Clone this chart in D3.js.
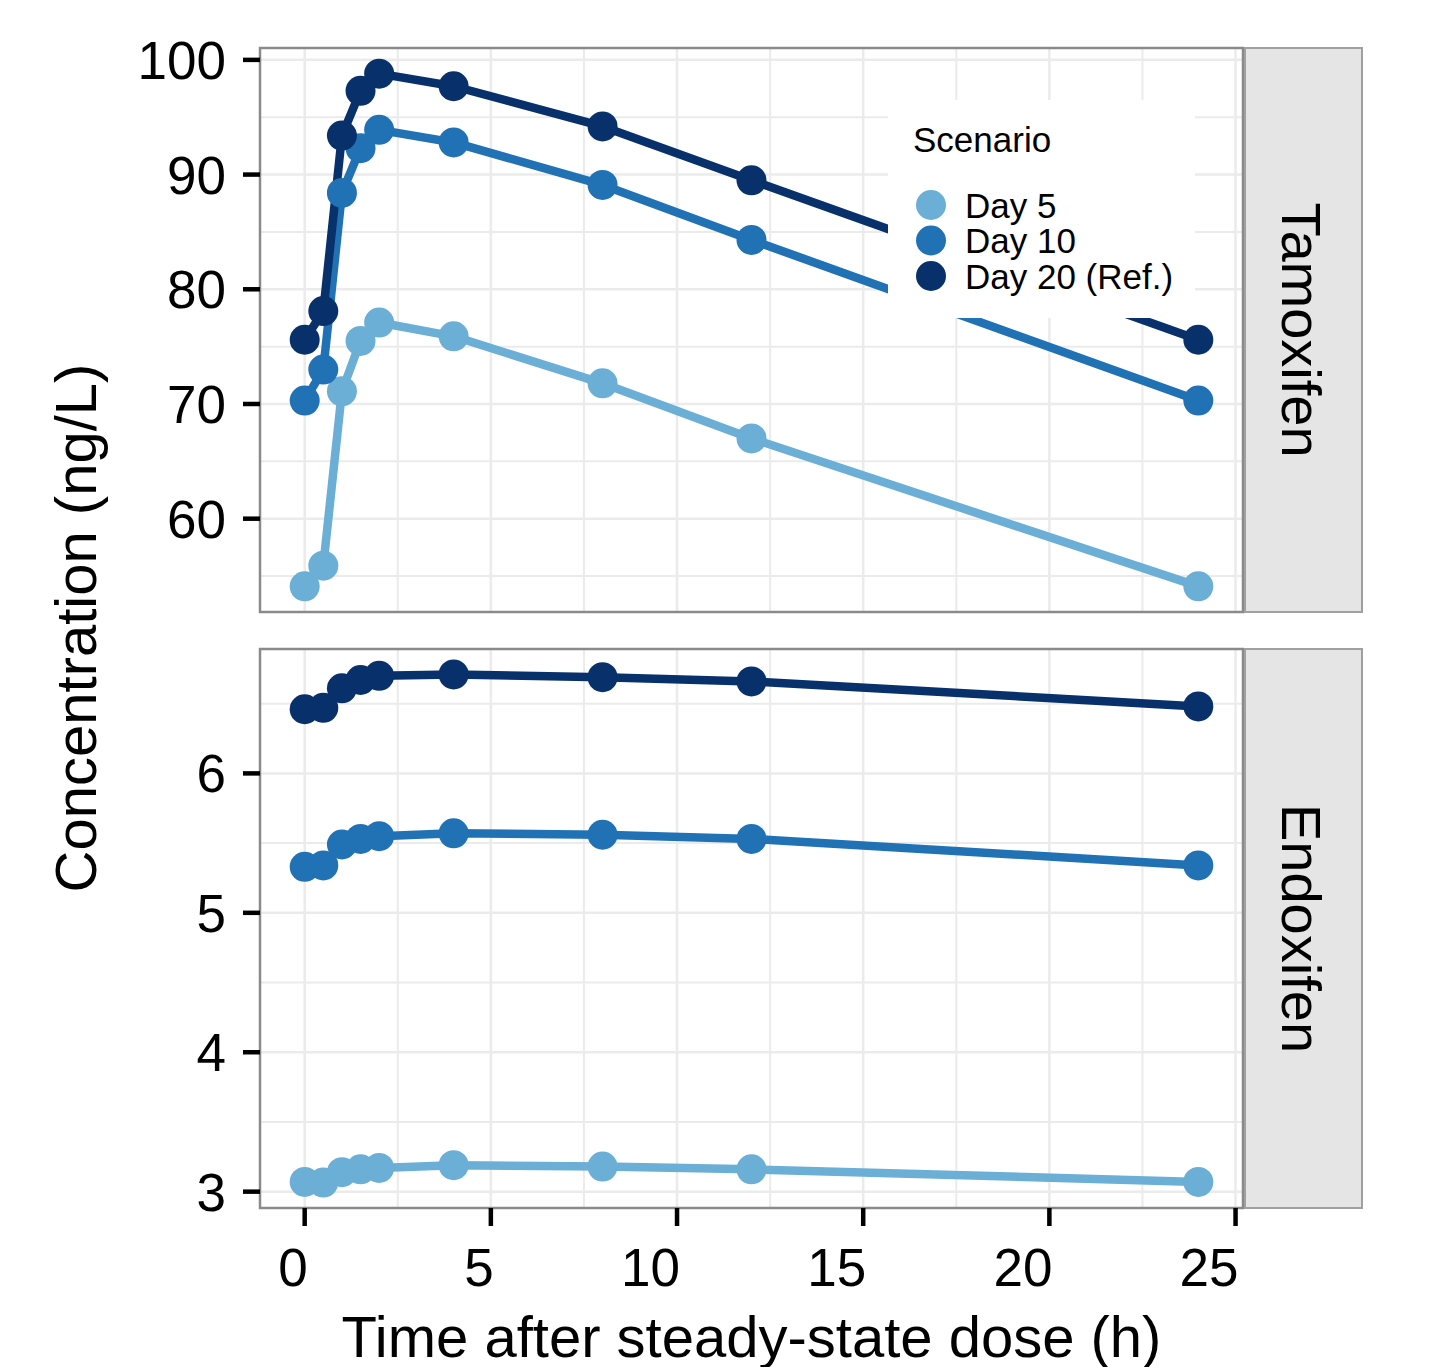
<!DOCTYPE html>
<meta charset="utf-8" />
<html>
<head>
    <style>
        body { margin: 0; background: #fff; }
        text { font-family: "Liberation Sans", Arial, sans-serif; fill: #000; }
        .grid line { stroke: #ebebeb; }
    </style>
</head>
<body>
    <svg width="1454" height="1367"></svg>
    <script src="https://d3js.org/d3.v7.min.js"></script>
    <script>
        // data
        var times = [0, 0.5, 1, 1.5, 2, 4, 8, 12, 24];
        var scenarios = ["Day 5", "Day 10", "Day 20 (Ref.)"];
        var colors = ["#6baed6", "#2171b5", "#08306b"];
        var panels = ["Tamoxifen", "Endoxifen"];

        var tamDay5 = [54.1, 55.9, 71.1, 75.5, 77.1, 75.9, 71.8, 67.0, 54.1];
        var tamDay10 = [70.3, 73.0, 88.4, 92.3, 93.9, 92.8, 89.1, 84.3, 70.3];
        var tamDay20 = [75.6, 78.1, 93.4, 97.3, 98.8, 97.7, 94.2, 89.5, 75.6];

        var endDay5 = [3.07, 3.065, 3.14, 3.16, 3.17, 3.19, 3.18, 3.16, 3.07];
        var endDay10 = [5.33, 5.34, 5.49, 5.53, 5.55, 5.57, 5.56, 5.53, 5.34];
        var endDay20 = [6.46, 6.47, 6.61, 6.67, 6.70, 6.71, 6.69, 6.66, 6.48];

        var xTicks = [0, 5, 10, 15, 20, 25];
        var yTicksTam = [60, 70, 80, 90, 100];
        var yTicksEnd = [3, 4, 5, 6];

        var series = [
            [tamDay5, tamDay10, tamDay20],
            [endDay5, endDay10, endDay20]
        ];
        var yTicks = [yTicksTam, yTicksEnd];

        var svg = d3.select("svg");
        var left = 260, right = 1243;
        var stripW = 119;
        var tops = [48, 649], bottoms = [612, 1208];

        // ggplot style 5% expansion
        function expand(ext) {
            var pad = (ext[1] - ext[0]) * 0.05;
            return [ext[0] - pad, ext[1] + pad];
        }

        var x = d3.scaleLinear()
            .domain(expand(d3.extent(times)))
            .range([left, right]);

        var grid = svg.append("g").attr("class", "grid");
        var marks = svg.append("g");
        var frames = svg.append("g");

        panels.forEach(function (name, p) {
            var vals = d3.merge(series[p]);
            var y = d3.scaleLinear()
                .domain(expand(d3.extent(vals)))
                .range([bottoms[p], tops[p]]);

            var step = yTicks[p][1] - yTicks[p][0];
            var minorY = yTicks[p].map(function (t) { return t + step / 2; })
                .concat([yTicks[p][0] - step / 2])
                .filter(function (t) { return t > y.domain()[0] && t < y.domain()[1]; });
            var minorX = xTicks.map(function (t) { return t + 2.5; })
                .filter(function (t) { return t < x.domain()[1]; });

            var g = grid.append("g");
            g.selectAll(".my").data(minorY).enter().append("line")
                .attr("x1", left).attr("x2", right)
                .attr("y1", y).attr("y2", y)
                .attr("stroke", "#f3f3f3").attr("stroke-width", 2);
            g.selectAll(".mx").data(minorX).enter().append("line")
                .attr("x1", x).attr("x2", x)
                .attr("y1", tops[p]).attr("y2", bottoms[p])
                .attr("stroke", "#f3f3f3").attr("stroke-width", 2);
            g.selectAll(".gy").data(yTicks[p]).enter().append("line")
                .attr("x1", left).attr("x2", right)
                .attr("y1", y).attr("y2", y)
                .attr("stroke-width", 2.5);
            g.selectAll(".gx").data(xTicks.filter(function (t) { return x(t) < right; })).enter().append("line")
                .attr("x1", x).attr("x2", x)
                .attr("y1", tops[p]).attr("y2", bottoms[p])
                .attr("stroke-width", 2.5);

            var line = d3.line()
                .x(function (d, i) { return x(times[i]); })
                .y(function (d) { return y(d); });

            var m = marks.append("g");
            series[p].forEach(function (s, k) {
                m.append("path")
                    .datum(s)
                    .attr("d", line)
                    .attr("fill", "none")
                    .attr("stroke", colors[k])
                    .attr("stroke-width", 8.5)
                    .attr("stroke-linejoin", "round");
            });
            series[p].forEach(function (s, k) {
                m.selectAll(".pt" + k).data(s).enter().append("circle")
                    .attr("cx", function (d, i) { return x(times[i]); })
                    .attr("cy", function (d) { return y(d); })
                    .attr("r", 15)
                    .attr("fill", colors[k]);
            });

            // panel border
            frames.append("rect")
                .attr("x", left).attr("y", tops[p])
                .attr("width", right - left).attr("height", bottoms[p] - tops[p])
                .attr("fill", "none").attr("stroke", "#8a8a8a").attr("stroke-width", 2.5);

            // strip
            frames.append("rect")
                .attr("x", right + 2).attr("y", tops[p])
                .attr("width", stripW - 2).attr("height", bottoms[p] - tops[p])
                .attr("fill", "#e5e5e5").attr("stroke", "#a0a0a0").attr("stroke-width", 2);
            var cy = (tops[p] + bottoms[p]) / 2;
            frames.append("text")
                .attr("transform", "translate(1282," + cy + ") rotate(90)")
                .attr("text-anchor", "middle")
                .style("font-size", "56px")
                .text(name);

            // y axis
            var ya = frames.append("g");
            ya.selectAll("line").data(yTicks[p]).enter().append("line")
                .attr("x1", 243).attr("x2", left)
                .attr("y1", y).attr("y2", y)
                .attr("stroke", "#000").attr("stroke-width", 4.5);
            ya.selectAll("text").data(yTicks[p]).enter().append("text")
                .attr("x", 226).attr("y", y)
                .attr("text-anchor", "end")
                .attr("dy", "0.36em")
                .style("font-size", "53px")
                .text(function (d) { return d; });
        });

        // x axis (labels sit right-aligned on their ticks, as in the original)
        var xa = frames.append("g");
        xa.selectAll("line").data(xTicks).enter().append("line")
            .attr("x1", x).attr("x2", x)
            .attr("y1", bottoms[1]).attr("y2", bottoms[1] + 18)
            .attr("stroke", "#000").attr("stroke-width", 4.5);
        xa.selectAll("text").data(xTicks).enter().append("text")
            .attr("x", function (d) { return x(d) + 3; }).attr("y", 1286)
            .attr("text-anchor", "end")
            .style("font-size", "53px")
            .text(function (d) { return d; });

        svg.append("text")
            .attr("x", (left + right) / 2).attr("y", 1357)
            .attr("text-anchor", "middle")
            .style("font-size", "58px")
            .text("Time after steady-state dose (h)");

        svg.append("text")
            .attr("transform", "translate(96," + (tops[0] + bottoms[1]) / 2 + ") rotate(-90)")
            .attr("text-anchor", "middle")
            .style("font-size", "58px")
            .text("Concentration (ng/L)");

        // legend
        var lg = svg.append("g");
        lg.append("rect")
            .attr("x", 888).attr("y", 100)
            .attr("width", 307).attr("height", 218)
            .attr("fill", "#fff");
        lg.append("text")
            .attr("x", 913).attr("y", 152)
            .style("font-size", "35px")
            .text("Scenario");
        scenarios.forEach(function (s, k) {
            var ly = 205 + k * 35.5;
            lg.append("circle")
                .attr("cx", 931).attr("cy", ly).attr("r", 15)
                .attr("fill", colors[k]);
            lg.append("text")
                .attr("x", 965).attr("y", ly)
                .attr("dy", "0.36em")
                .style("font-size", "35px")
                .text(s);
        });
    </script>
</body>
</html>
